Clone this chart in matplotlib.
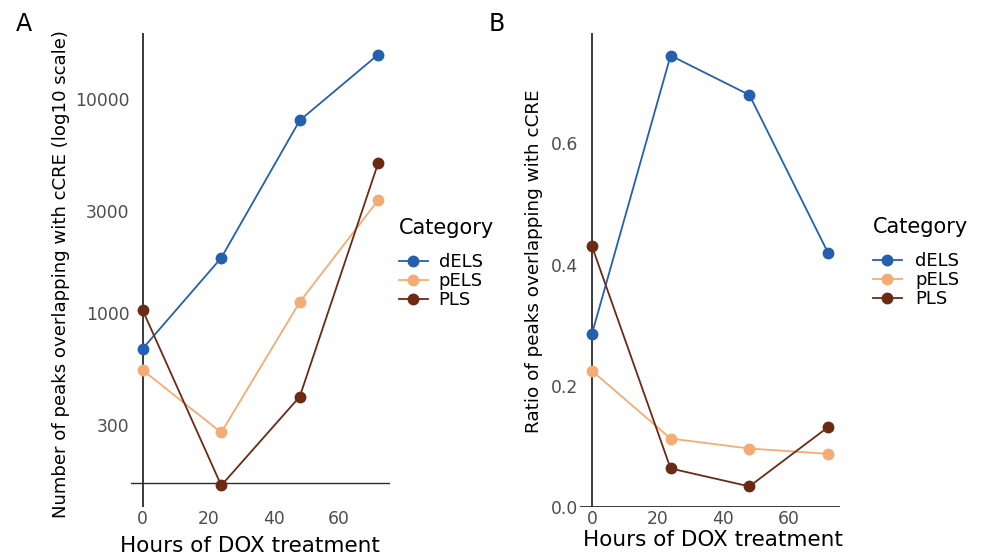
import matplotlib
matplotlib.use("Agg")
import matplotlib.pyplot as plt
import numpy as np

plt.rcParams['font.family'] = ['DejaVu Sans']

hours = [0, 24, 48, 72]
categories = ["dELS", "pELS", "PLS"]
colors = {"dELS": "#2460AE", "pELS": "#F4AC74", "PLS": "#6B2A14"}

counts = {
    "dELS": [682, 1811, 7960, 16180],
    "pELS": [540, 276, 1125, 3375],
    "PLS":  [1028, 156, 406, 5035],
}
ratios = {
    "dELS": [0.285, 0.745, 0.680, 0.419],
    "pELS": [0.225, 0.113, 0.0965, 0.0877],
    "PLS":  [0.431, 0.0636, 0.034, 0.132],
}

xticks = [0, 20, 40, 60]
yticks_a = [300, 1000, 3000, 10000]
yticks_b = [0.0, 0.2, 0.4, 0.6]
hline_a = 160

W, H = 995, 557
fig = plt.figure(figsize=(W / 100, H / 100), dpi=100)

def fx(px):
    return px / W

def fy(py):
    return 1 - py / H

axA = fig.add_axes([fx(131), fy(507), fx(390) - fx(131), fy(33) - fy(507)])
axB = fig.add_axes([fx(580), fy(507), fx(840) - fx(580), fy(33) - fy(507)])

axis_col = "#2b2b2b"
tick_col = "#4d4d4d"

for ax, data in ((axA, counts), (axB, ratios)):
    for c in categories:
        ax.plot(hours, data[c], color=colors[c], lw=1.3, marker="o", ms=7.5,
                label=c, zorder=3)
    for s in ax.spines.values():
        s.set_visible(False)
    ax.set_xlim(-3.6, 75.6)
    ax.set_xticks(xticks)
    ax.tick_params(length=0, labelsize=12.3, labelcolor=tick_col)
    ax.tick_params(axis="x", pad=2)
    ax.tick_params(axis="y", pad=1)
    ax.axvline(0, color=axis_col, lw=1.3, zorder=2)
    ax.set_facecolor("none")

# Panel A: log scale
axA.set_yscale("log")
lo = np.log10(min(min(v) for v in counts.values()))
hi = np.log10(max(max(v) for v in counts.values()))
pad = (hi - lo) * 0.05
axA.set_ylim(10 ** (lo - pad), 10 ** (hi + pad))
axA.set_yticks(yticks_a)
axA.set_yticklabels([str(v) for v in yticks_a])
axA.yaxis.set_minor_locator(matplotlib.ticker.NullLocator())
axA.axhline(hline_a, color=axis_col, lw=1.0, zorder=2)

# Panel B
hiB = max(max(v) for v in ratios.values())
axB.set_ylim(0, hiB * 1.05)
axB.set_yticks(yticks_b)
axB.set_yticklabels([f"{v:.1f}" for v in yticks_b])
axB.axhline(0, color=axis_col, lw=1.3, zorder=2)

# Axis labels
axA.set_xlabel("Hours of DOX treatment", fontsize=15.5, color="black")
axA.xaxis.set_label_coords(fx(250), fy(546), transform=fig.transFigure)
axA.xaxis.label.set_va("center")
axB.set_xlabel("Hours of DOX treatment", fontsize=15.5, color="black")
axB.xaxis.set_label_coords(fx(713), fy(540), transform=fig.transFigure)
axB.xaxis.label.set_va("center")

axA.set_ylabel("Number of peaks overlapping with cCRE (log10 scale)", fontsize=13.1, color="black")
axA.yaxis.set_label_coords(fx(61), fy(274), transform=fig.transFigure)
axA.yaxis.label.set_va("center")
axB.set_ylabel("Ratio of peaks overlapping with cCRE", fontsize=13.2, color="black")
axB.yaxis.set_label_coords(fx(534), fy(261), transform=fig.transFigure)
axB.yaxis.label.set_va("center")

# Legends
legend_spots = [(axA, 399, 218, 0.6), (axB, 873, 217, 0.75)]
for ax, lx, ly, tp in legend_spots:
    leg = ax.legend(loc="upper left", bbox_to_anchor=(fx(lx), fy(ly)),
                    bbox_transform=fig.transFigure, frameon=False, borderpad=0,
                    title="Category", fontsize=13, title_fontsize=15,
                    handlelength=1.6, handletextpad=tp, labelspacing=0.05,
                    alignment="left", borderaxespad=0)
    leg._legend_box.sep = 11

# Panel tags
fig.text(fx(24), fy(24), "A", fontsize=17, ha="center", va="center")
fig.text(fx(497), fy(24), "B", fontsize=17, ha="center", va="center")

fig.savefig("out.png", dpi=100)
